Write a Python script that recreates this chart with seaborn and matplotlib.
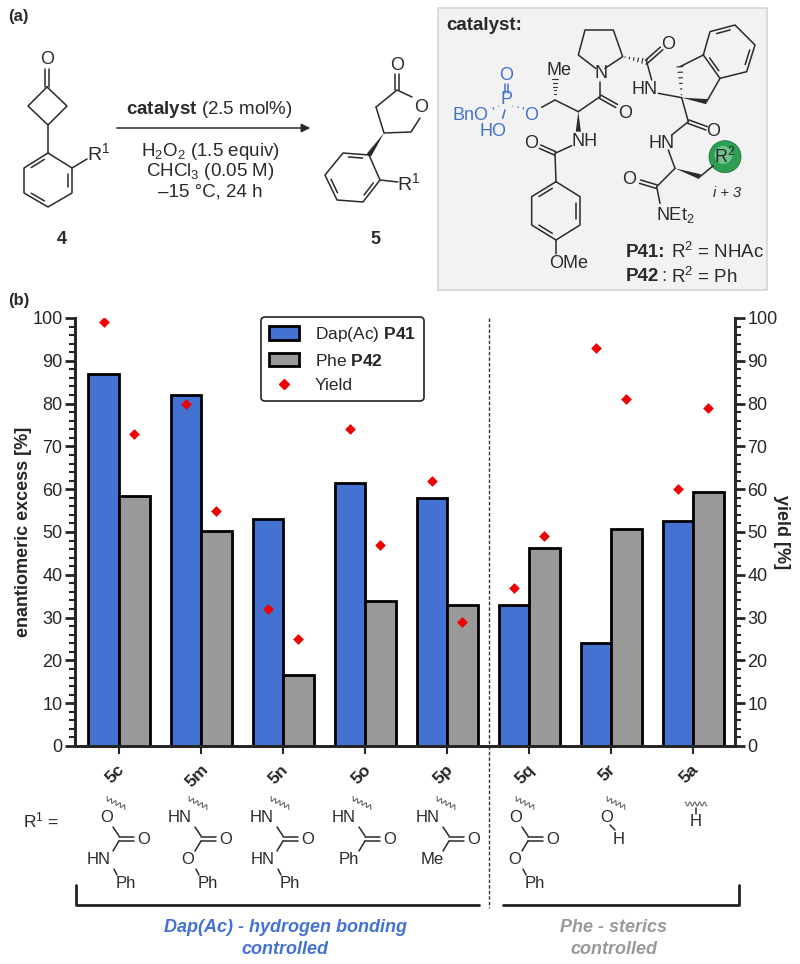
import numpy as np
import pandas as pd
import matplotlib
matplotlib.use("Agg")
import matplotlib.pyplot as plt
from matplotlib.lines import Line2D
from matplotlib.patches import Patch, Polygon, Rectangle, Circle
from matplotlib.transforms import ScaledTranslation
import seaborn as sns

compounds = ["5c", "5m", "5n", "5o", "5p", "5q", "5r", "5a"]
ee_p41 = [87, 82, 53, 61.5, 58, 33, 24, 52.5]
ee_p42 = [58.5, 50.3, 16.7, 33.8, 33, 46.3, 50.7, 59.3]
yield_p41 = [99, 80, 32, 74, 62, 37, 93, 60]
yield_p42 = [73, 55, 25, 47, 29, 49, 81, 79]

BLUE = "#4472d2"
GREY = "#999999"
INK = "#2a2a2a"

sns.set_style("ticks")
plt.rcParams["font.family"] = ["Liberation Sans", "DejaVu Sans"]
plt.rcParams["mathtext.fontset"] = "custom"
plt.rcParams["mathtext.rm"] = "Liberation Sans"
plt.rcParams["mathtext.bf"] = "Liberation Sans:bold"
plt.rcParams["mathtext.it"] = "Liberation Sans:italic"

W, H = 800, 964
fig = plt.figure(figsize=(8, 9.64), dpi=100)
ax = fig.add_axes([75 / W, 1 - 746 / H, 660 / W, 428 / H])

df = pd.DataFrame({
    "compound": compounds * 2,
    "ee": ee_p41 + ee_p42,
    "catalyst": ["P41"] * 8 + ["P42"] * 8,
})
sns.barplot(data=df, x="compound", y="ee", hue="catalyst", palette=[BLUE, GREY],
            width=0.745, gap=0, edgecolor="black", linewidth=2, saturation=1,
            legend=False, ax=ax)

ax2 = ax.twinx()
idx = np.arange(len(compounds))
sns.scatterplot(x=idx - 0.186, y=yield_p41, marker="D", color="#f00000", s=30,
                linewidth=0, ax=ax2)
sns.scatterplot(x=idx + 0.186, y=yield_p42, marker="D", color="#f00000", s=30,
                linewidth=0, ax=ax2)

ax.set_xlim(-0.537, 7.51)
for a in (ax, ax2):
    a.set_ylim(0, 100)
    a.set_yticks(range(0, 101, 10))
    a.set_yticks(range(0, 101, 2), minor=True)
    a.tick_params(axis="y", which="major", length=7, width=2, labelsize=13, pad=2)
    a.tick_params(axis="y", which="minor", length=4.3, width=1.5)
    for s in a.spines.values():
        s.set_linewidth(2)
ax.spines["top"].set_visible(False)
ax2.spines["top"].set_visible(False)
ax.tick_params(axis="x", length=5.5, width=1.5, labelsize=12.5, pad=6)
ax.set_xticks(idx)
ax.set_xticklabels(compounds, rotation=45, fontweight="bold", ha="center")
for lab in ax.get_xticklabels():
    lab.set_transform(lab.get_transform() + ScaledTranslation(-3 / 72, 0, fig.dpi_scale_trans))
ax.set_xlabel("")
ax.set_ylabel("enantiomeric excess [%]", fontweight="bold", fontsize=13, labelpad=0)
ax2.set_ylabel("yield [%]", fontweight="bold", fontsize=13, rotation=270, labelpad=9)

handles = [
    Patch(facecolor=BLUE, edgecolor="black", linewidth=2, label=r"Dap(Ac) $\mathbf{P41}$"),
    Patch(facecolor=GREY, edgecolor="black", linewidth=2, label=r"Phe $\mathbf{P42}$"),
    Line2D([], [], marker="D", color="#f00000", linestyle="none", markersize=5.5, label="Yield"),
]
ax2.legend(handles=handles, loc="upper left", bbox_to_anchor=(0.282, 1.002), fontsize=12.5,
           frameon=True, framealpha=1, edgecolor="#222222", fancybox=True, borderaxespad=0,
           borderpad=0.45, handlelength=1.75, handleheight=0.8, labelspacing=0.5,
           handletextpad=0.9).get_frame().set_linewidth(1.2)

# everything else is drawn on a full figure overlay in pixel coordinates
ov = fig.add_axes([0, 0, 1, 1], zorder=10)
ov.set_xlim(0, W)
ov.set_ylim(H, 0)
ov.axis("off")


def bond(*pts, color=INK, lw=1.1):
    xs, ys = zip(*pts)
    ov.plot(xs, ys, color=color, lw=lw, solid_capstyle="round", solid_joinstyle="round")


def dbl(p, q, off=2.2, color=INK):
    p, q = np.array(p, float), np.array(q, float)
    n = np.array([-(q - p)[1], (q - p)[0]])
    n = n / np.hypot(*n) * off
    bond(p + n, q + n, color=color)
    bond(p - n, q - n, color=color)


def inner(p, q, c, color=INK):
    # second line of an aromatic double bond, pulled towards ring centre c
    p, q, c = np.array(p, float), np.array(q, float), np.array(c, float)
    bond(p + (q - p) * 0.15 + (c - p) * 0.15, q - (q - p) * 0.15 + (c - q) * 0.15, color=color)


def ring(pts, doubles=(0, 2, 4)):
    bond(*pts, pts[0])
    c = np.mean(pts, axis=0)
    for i in doubles:
        inner(pts[i], pts[(i + 1) % len(pts)], c)


def wedge(p, q, w=2.6):
    p, q = np.array(p, float), np.array(q, float)
    n = np.array([-(q - p)[1], (q - p)[0]])
    n = n / np.hypot(*n) * w
    ov.add_patch(Polygon([p, q + n, q - n], closed=True, color=INK, lw=0))


def hashed(p, q, w=3, steps=6, color=INK):
    p, q = np.array(p, float), np.array(q, float)
    n = np.array([-(q - p)[1], (q - p)[0]])
    n = n / np.hypot(*n)
    for t in np.linspace(0.1, 1, steps):
        c = p + (q - p) * t
        bond(c - n * w * t, c + n * w * t, color=color, lw=0.8)


def squiggle(cx, cy, angle=-25, span=11):
    t = np.linspace(-span, span, 60)
    wob = 2 * np.sin(t * 1.3)
    a = np.radians(angle + 50)
    ov.plot(cx + t * np.cos(a) - wob * np.sin(a), cy + t * np.sin(a) + wob * np.cos(a),
            color="#555555", lw=0.7)


def txt(x, y, s, size=12, ha="center", color=INK, **kw):
    ov.text(x, y, s, fontsize=size, ha=ha, va="center", color=color, **kw)


# (a) reaction scheme
txt(8, 17, "(a)", size=12, ha="left", fontweight="bold")
txt(47, 59, "O", size=13)
dbl((47, 69), (47, 87), off=1.8)
bond((47, 87), (67, 106), (48, 125), (28, 106), (47, 87))
bond((48, 125), (48, 153))
ring([(48, 153), (72, 168), (72, 193), (48, 207), (24, 193), (24, 168)], doubles=(1, 3, 5))
bond((72, 168), (87, 159))
txt(99, 153, r"R$^{\mathrm{1}}$", size=14)
txt(62, 239, "4", size=13, fontweight="bold")

ov.annotate("", xy=(313, 128), xytext=(114, 128),
            arrowprops=dict(arrowstyle="-|>", color=INK, lw=1.1, mutation_scale=13))
txt(209, 109, r"$\mathbf{catalyst}$ (2.5 mol%)", size=13.5)
txt(210, 151, r"H$_2$O$_2$ (1.5 equiv)", size=13.5)
txt(210, 172, r"CHCl$_3$ (0.05 M)", size=13.5)
txt(210, 192, "\u201315 \u00b0C, 24 h", size=13.5)

txt(397, 65, "O", size=13)
dbl((397, 74), (397, 90), off=1.8)
bond((376, 107), (397, 90), (412, 97))
txt(421, 108, "O", size=13)
bond((420, 118), (411, 132), (384, 133), (376, 107))
wedge((384, 133), (369, 155))
ring([(369, 155), (380, 180), (363, 202), (337, 200), (325, 175), (343, 153)], doubles=(1, 3, 5))
bond((380, 180), (398, 182))
txt(409, 183, r"R$^{\mathrm{1}}$", size=14)
txt(375, 239, "5", size=13, fontweight="bold")

# catalyst box
ov.add_patch(Rectangle((438, 8), 329, 282, facecolor="#f2f2f2", edgecolor="#d4d4d4", lw=1.2))


def z(x, y):
    return (430 + x / 3, y / 3)


txt(*z(50, 78), "catalyst:", size=13.5, ha="left", fontweight="bold")
bond(z(497, 205), z(445, 165), z(465, 90), z(550, 90), z(578, 170), z(525, 205))
txt(*z(512, 222), "N", size=13)
hashed(z(578, 170), z(650, 185))
dbl(z(650, 185), z(695, 145), off=1.8)
txt(*z(713, 133), "O", size=13)
bond(z(650, 185), z(665, 240))
txt(*z(645, 270), "HN", size=13)
bond(z(685, 280), z(755, 293))
wedge(z(755, 293), z(830, 305))
bond(z(830, 305), z(870, 235))
hashed(z(755, 293), z(750, 200))
bond(z(750, 200), z(820, 165))
ring([z(820, 165), z(840, 95), z(915, 75), z(975, 135), z(950, 215), z(870, 235)], doubles=(1, 3, 5))
bond(z(755, 293), z(775, 365))
dbl(z(775, 365), z(830, 385), off=1.8)
txt(*z(850, 395), "O", size=13)
bond(z(775, 365), z(725, 405))
txt(*z(695, 430), "HN", size=13)
bond(z(715, 450), z(735, 505))
wedge(z(735, 505), z(810, 530))
bond(z(810, 530), z(850, 497))
ov.add_patch(Circle(z(885, 470), 16, facecolor="#2e9e55", edgecolor="#1f7a3e", lw=0.6))
ov.add_patch(Circle(z(880, 465), 9, facecolor="#6cc48a", edgecolor="none"))
txt(*z(885, 470), r"R$^{\mathrm{2}}$", size=13)
bond(z(735, 505), z(680, 560))
dbl(z(680, 560), z(630, 545), off=1.8)
txt(*z(597, 540), "O", size=13)
bond(z(680, 560), z(690, 610))
txt(*z(735, 645), r"NEt$_2$", size=13)
txt(*z(890, 580), "i + 3", size=10.5, style="italic")
bond(z(510, 245), z(510, 290))
dbl(z(510, 290), z(560, 318), off=1.8)
txt(*z(585, 340), "O", size=13)
bond(z(510, 290), z(445, 335))
wedge(z(445, 335), z(445, 395))
txt(*z(465, 425), "NH", size=13)
bond(z(445, 335), z(375, 300))
hashed(z(375, 300), z(375, 238))
txt(*z(388, 212), "Me", size=13)
bond(z(375, 300), z(335, 322))
txt(*z(302, 345), "O", size=13, color=BLUE)
txt(*z(228, 300), "P", size=13, color=BLUE)
txt(*z(228, 225), "O", size=13, color=BLUE)
dbl(z(228, 252), z(228, 280), off=1.5, color=BLUE)
hashed(z(245, 318), z(280, 325), w=1, steps=3, color=BLUE)
hashed(z(208, 318), z(190, 325), w=1, steps=2, color=BLUE)
bond(z(225, 330), z(218, 355), color=BLUE)
txt(*z(120, 347), "BnO", size=13, color=BLUE)
txt(*z(190, 395), "HO", size=13, color=BLUE)
bond(z(425, 437), z(375, 460))
dbl(z(375, 460), z(330, 440), off=1.8)
txt(*z(303, 430), "O", size=13)
bond(z(375, 460), z(378, 545))
ring([z(378, 545), z(450, 590), z(450, 675), z(378, 720), z(305, 675), z(305, 590)], doubles=(1, 3, 5))
bond(z(378, 720), z(378, 762))
txt(*z(415, 792), "OMe", size=13)
txt(*z(588, 758), "P41:", size=13.5, ha="left", fontweight="bold")
txt(*z(722, 756), r"R$^2$ = NHAc", size=13.5, ha="left")
txt(*z(588, 830), "P42", size=13.5, ha="left", fontweight="bold")
txt(*z(695, 830), ":", size=13.5, ha="left")
txt(*z(722, 830), r"R$^2$ = Ph", size=13.5, ha="left")

# (b) panel and substituents
txt(8, 301, "(b)", size=12, ha="left", fontweight="bold")
bond((489, 318), (489, 908), lw=1, color="#333333")
ov.lines[-1].set_linestyle((0, (2.5, 1.5)))
txt(41, 820, r"R$^1$ =", size=12.5)


def r1_group(cx, top, bottom, tail):
    squiggle(cx - 3, 803)
    txt(cx - 12 if top == "O" else cx - 21, 817, top)
    bond((cx - 6, 827), (cx, 836))
    dbl((cx, 839), (cx + 15, 839), off=1.6)
    txt(cx + 25, 839, "O")
    bond((cx, 841), (cx - 6, 851))
    off = {"O": -13, "HN": -20, "Ph": -16, "Me": -17}[bottom]
    txt(cx + off, 860, bottom)
    if tail:
        bond((cx - 5, 869), (cx - 2, 875))
        txt(cx + 7, 883, tail)


r1_group(119, "O", "HN", "Ph")
r1_group(201, "HN", "O", "Ph")
r1_group(283, "HN", "HN", "Ph")
r1_group(365, "HN", "Ph", None)
r1_group(449, "HN", "Me", None)
r1_group(528, "O", "O", "Ph")
squiggle(616, 803)
txt(607, 817, "O")
bond((610, 825), (615, 830))
txt(619, 839, "H")
squiggle(696, 804, angle=-50)
bond((696, 808), (696, 814))
txt(696, 822, "H")

bond((76, 885), (76, 905), (479, 905), lw=2, color="#222222")
bond((503, 905), (739, 905), (739, 885), lw=2, color="#222222")
txt(285, 928, "Dap(Ac) - hydrogen bonding", size=13, color=BLUE, fontweight="bold", style="italic")
txt(285, 950, "controlled", size=13, color=BLUE, fontweight="bold", style="italic")
txt(614, 928, "Phe - sterics", size=13, color="#999999", fontweight="bold", style="italic")
txt(614, 950, "controlled", size=13, color="#999999", fontweight="bold", style="italic")

fig.savefig("out.png", dpi=100)
